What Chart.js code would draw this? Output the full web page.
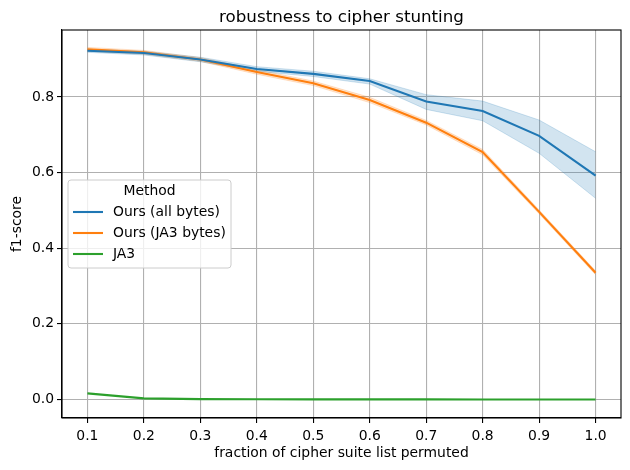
<!DOCTYPE html>
<html>
<head>
<meta charset="utf-8">
<script src="https://cdn.jsdelivr.net/npm/chart.js@4/dist/chart.umd.min.js"></script>
<style>html,body{margin:0;padding:0;background:#fff}canvas{display:block}</style>
</head>
<body>
<canvas id="c" width="630" height="470"></canvas>
<script>
const fractions = [0.1, 0.2, 0.3, 0.4, 0.5, 0.6, 0.7, 0.8, 0.9, 1.0];
const allBytesMean  = [0.922, 0.916, 0.899, 0.874, 0.861, 0.842, 0.788, 0.763, 0.697, 0.592];
const allBytesLow   = [0.918, 0.911, 0.893, 0.868, 0.854, 0.834, 0.767, 0.737, 0.651, 0.532];
const allBytesHigh  = [0.926, 0.921, 0.905, 0.880, 0.868, 0.848, 0.806, 0.789, 0.739, 0.655];
const ja3BytesMean  = [0.926, 0.918, 0.899, 0.866, 0.836, 0.792, 0.732, 0.654, 0.496, 0.335];
const ja3BytesLow   = [0.921, 0.913, 0.894, 0.860, 0.830, 0.785, 0.726, 0.647, 0.491, 0.330];
const ja3BytesHigh  = [0.931, 0.923, 0.904, 0.872, 0.842, 0.799, 0.738, 0.661, 0.501, 0.340];
const ja3Mean       = [0.016, 0.003, 0.001, 0.0005, 0.0003, 0.0002, 0.0002, 0.0001, 0.0001, 0.0001];
const seriesNames = ['Ours (all bytes)', 'Ours (JA3 bytes)', 'JA3'];
const seriesColors = ['#1f77b4', '#ff7f0e', '#2ca02c'];
const bandColors = ['rgba(31,119,180,0.2)', 'rgba(255,127,14,0.2)'];
const xTicks = fractions;
const yTicks = [0.0, 0.2, 0.4, 0.6, 0.8];
const chartTitle = 'robustness to cipher stunting';
const xLabel = 'fraction of cipher suite list permuted';
const yLabel = 'f1-score';
const legendTitle = 'Method';

const FONT = 'DejaVu Sans';
const pts = arr => fractions.map((x, i) => ({x, y: arr[i]}));

function line(label, arr, color) {
  return {label, data: pts(arr), borderColor: color, backgroundColor: color, borderWidth: 2.1,
    pointRadius: 0, fill: false, tension: 0, order: 0};
}
function bandLow(arr, edge) {
  return {label: '_low', data: pts(arr), borderColor: edge, borderWidth: 1, pointRadius: 0, fill: false, order: 1};
}
function bandHigh(arr, color) {
  return {label: '_high', data: pts(arr), borderColor: color, borderWidth: 1, pointRadius: 0,
    fill: '-1', backgroundColor: color, order: 1};
}

const frame = {
  id: 'frame',
  afterDraw(chart) {
    const {ctx, chartArea: a} = chart;
    ctx.save();
    ctx.strokeStyle = '#000';
    ctx.lineWidth = 1.1;
    ctx.strokeRect(a.left, a.top, a.right - a.left, a.bottom - a.top);
    // title
    ctx.fillStyle = '#000';
    ctx.font = '16.7px "' + FONT + '"';
    ctx.textAlign = 'center';
    ctx.textBaseline = 'alphabetic';
    ctx.fillText(chartTitle, (a.left + a.right) / 2, 22);
    // legend
    const lx = 68, ly = 180, lw = 163, lh = 88, r = 3;
    ctx.beginPath();
    ctx.moveTo(lx + r, ly);
    ctx.arcTo(lx + lw, ly, lx + lw, ly + lh, r);
    ctx.arcTo(lx + lw, ly + lh, lx, ly + lh, r);
    ctx.arcTo(lx, ly + lh, lx, ly, r);
    ctx.arcTo(lx, ly, lx + lw, ly, r);
    ctx.closePath();
    ctx.fillStyle = 'rgba(255,255,255,0.8)';
    ctx.fill();
    ctx.strokeStyle = '#cccccc';
    ctx.lineWidth = 1;
    ctx.stroke();
    ctx.font = '13.9px "' + FONT + '"';
    ctx.fillStyle = '#000';
    ctx.textAlign = 'center';
    ctx.textBaseline = 'middle';
    ctx.fillText(legendTitle, lx + lw / 2, 191);
    const rows = [212, 233, 254];
    ctx.textAlign = 'left';
    seriesNames.forEach((n, i) => {
      ctx.strokeStyle = seriesColors[i];
      ctx.lineWidth = 2.1;
      ctx.beginPath();
      ctx.moveTo(73, rows[i]);
      ctx.lineTo(103, rows[i]);
      ctx.stroke();
      ctx.fillStyle = '#000';
      ctx.fillText(n, 113, rows[i]);
    });
    ctx.restore();
  }
};

new Chart(document.getElementById('c'), {
  type: 'line',
  data: {
    datasets: [
      line(seriesNames[0], allBytesMean, seriesColors[0]),
      line(seriesNames[1], ja3BytesMean, seriesColors[1]),
      line(seriesNames[2], ja3Mean, seriesColors[2]),
      bandLow(allBytesLow, bandColors[0]), bandHigh(allBytesHigh, bandColors[0]),
      bandLow(ja3BytesLow, bandColors[1]), bandHigh(ja3BytesHigh, bandColors[1])
    ]
  },
  options: {
    responsive: false,
    animation: false,
    devicePixelRatio: 1,
    layout: {padding: {top: 30, right: 9, left: 0, bottom: 0}},
    plugins: {legend: {display: false}, title: {display: false}, tooltip: {enabled: false}},
    scales: {
      x: {
        type: 'linear', min: 0.055, max: 1.045,
        afterFit(s) { s.height = 52; },
        afterBuildTicks(s) { s.ticks = xTicks.map(v => ({value: v})); },
        ticks: {stepSize: 0.1, includeBounds: false, autoSkip: false, maxRotation: 0, padding: 5,
          color: '#000', font: {family: FONT, size: 13.9}, callback: v => v.toFixed(1)},
        grid: {color: '#b0b0b0', lineWidth: 1.1, drawTicks: true, tickLength: 5, tickColor: '#000', tickWidth: 1.1},
        border: {display: true, color: '#000', width: 1.1},
        title: {display: true, text: xLabel, color: '#000', font: {family: FONT, size: 13.9}, padding: {top: 0, bottom: 8}}
      },
      y: {
        type: 'linear', min: -0.049, max: 0.977,
        afterFit(s) { s.width = 62; },
        afterBuildTicks(s) { s.ticks = yTicks.map(v => ({value: v})); },
        ticks: {stepSize: 0.2, includeBounds: false, autoSkip: false, padding: 3,
          color: '#000', font: {family: FONT, size: 13.9}, callback: v => v.toFixed(1)},
        grid: {color: '#b0b0b0', lineWidth: 1.1, drawTicks: true, tickLength: 5, tickColor: '#000', tickWidth: 1.1},
        border: {display: true, color: '#000', width: 1.1},
        title: {display: true, text: yLabel, color: '#000', font: {family: FONT, size: 13.9}, padding: {top: 9, bottom: 0}}
      }
    }
  },
  plugins: [frame]
});
</script>
</body>
</html>
